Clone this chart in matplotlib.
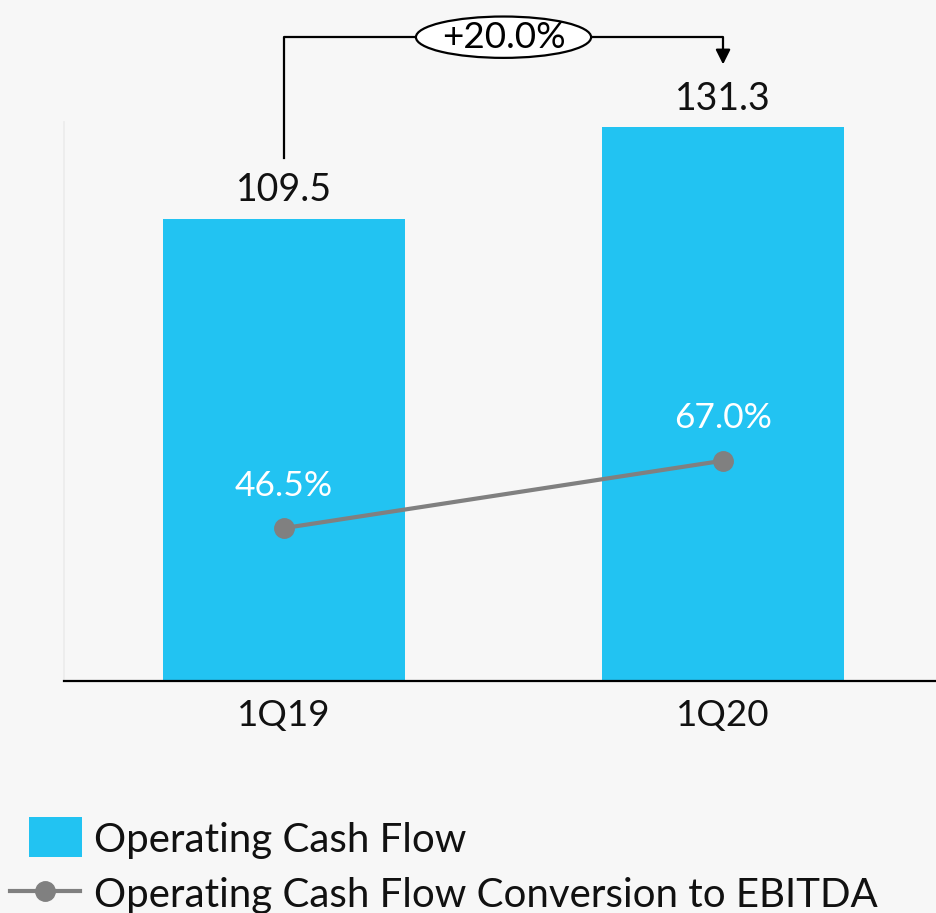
import matplotlib
matplotlib.use("Agg")
import matplotlib.pyplot as plt
from matplotlib.patches import Ellipse, Rectangle
from matplotlib.lines import Line2D

categories = ["1Q19", "1Q20"]
ocf = [109.5, 131.3]
conversion = [46.5, 67.0]
growth_label = "+20.0%"
legend_labels = ["Operating Cash Flow", "Operating Cash Flow Conversion to EBITDA"]

BG = "#f7f7f7"
BAR = "#22c3f2"
GRAY = "#808080"
FONT = ["Lato", "DejaVu Sans"]
plt.rcParams["font.family"] = FONT

W, H = 936, 913
fig = plt.figure(figsize=(W / 100, H / 100), dpi=100, facecolor=BG)
ax = fig.add_axes([64 / W, (H - 681) / H, (936 - 64) / W, (681 - 122) / H])
ax.set_facecolor(BG)

x = list(range(len(categories)))
ax.bar(x, ocf, width=0.553, color=BAR, zorder=2)
ax.set_xlim(-0.501, 1.485)
ax.set_ylim(0, 132.5)
ax.set_yticks([])
ax.set_xticks(x)
ax.set_xticklabels(categories, fontsize=26.5, color="#111111")
ax.tick_params(axis="x", length=0, pad=13)
for s in ["top", "right"]:
    ax.spines[s].set_visible(False)
ax.spines["left"].set_color("#ebebeb")
ax.spines["left"].set_linewidth(1.2)
ax.spines["bottom"].set_color("black")
ax.spines["bottom"].set_linewidth(1.6)

for xi, v in zip(x, ocf):
    ax.text(xi, v + 2.5, f"{v:.1f}", ha="center", va="bottom", fontsize=27, color="#111111")

ax2 = ax.twinx()
ax2.set_ylim(0, 170)
ax2.axis("off")
ax2.plot(x, conversion, color=GRAY, lw=3, marker="o", ms=14, zorder=3)
for xi, v in zip(x, conversion):
    ax2.text(xi, v + 8.0, f"{v:.1f}%", ha="center", va="bottom", fontsize=25.5, color="white")

# growth bracket
y_top = 152.6
ax.plot([x[0], x[0], x[1], x[1]], [ocf[0] + 14.4, y_top, y_top, ocf[1] + 17],
        color="black", lw=1.6, clip_on=False, zorder=4)
ax.annotate("", xy=(x[1], ocf[1] + 14.2), xytext=(x[1], ocf[1] + 18),
            arrowprops=dict(arrowstyle="-|>", color="black", lw=1.6, mutation_scale=22),
            annotation_clip=False)
mid = (x[0] + x[1]) / 2
ax.add_patch(Ellipse((mid, y_top), 0.399, 9.8, facecolor="white", edgecolor="black",
                     lw=1.6, clip_on=False, zorder=5))
ax.text(mid, y_top, growth_label, ha="center", va="center", fontsize=26.5, color="black",
        zorder=6, clip_on=False)

# legend
fig.patches.append(Rectangle((29 / W, (H - 857) / H), 53 / W, 40 / H, transform=fig.transFigure,
                             facecolor=BAR, edgecolor="none"))
fig.text(94 / W, (H - 840) / H, legend_labels[0], ha="left", va="center", fontsize=29, color="#111111")
fig.lines.append(Line2D([10 / W, 80 / W], [(H - 891) / H] * 2, transform=fig.transFigure,
                        color=GRAY, lw=3))
fig.lines.append(Line2D([45 / W], [(H - 891) / H], transform=fig.transFigure, color=GRAY,
                        marker="o", ms=14, lw=0))
fig.text(94 / W, (H - 895) / H, legend_labels[1], ha="left", va="center", fontsize=29, color="#111111")

fig.savefig("out.png", dpi=100, facecolor=BG)
